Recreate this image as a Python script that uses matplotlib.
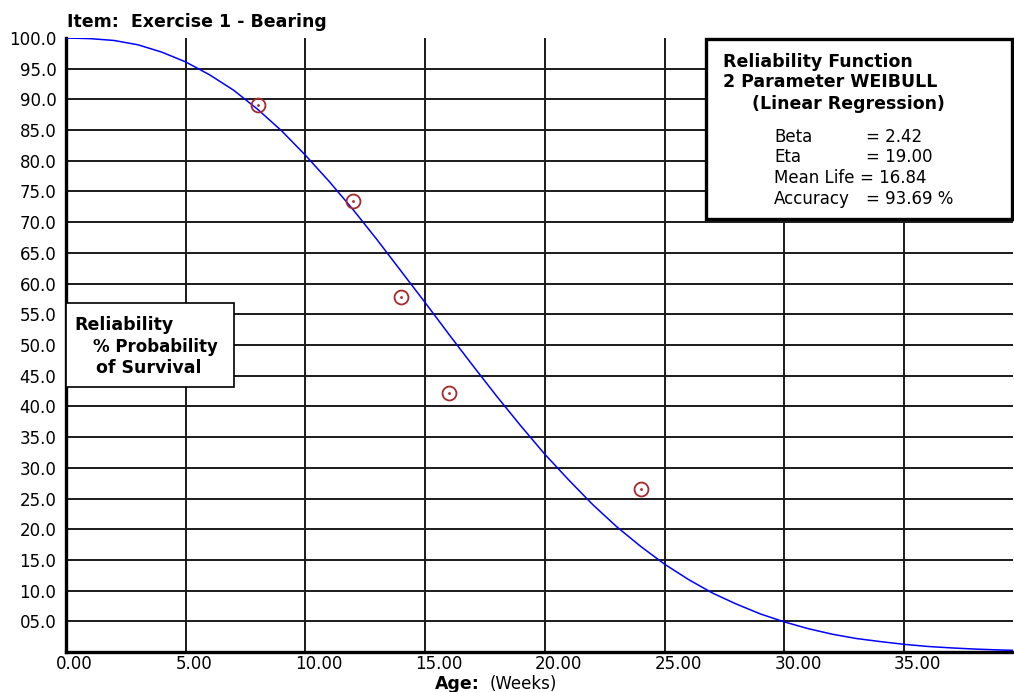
import matplotlib
matplotlib.use("Agg")
import matplotlib.pyplot as plt
import matplotlib.transforms as mtransforms
from matplotlib.patches import Rectangle

# fitted reliability curve (age in weeks, % survival)
curve_age = [0, 1, 2, 3, 4, 5, 6, 7, 8, 9, 10, 11, 12, 13, 14, 15, 16, 17, 18, 19,
             20, 21, 22, 23, 24, 25, 26, 27, 28, 29, 30, 31, 32, 33, 34, 35, 36, 37, 38, 39, 40]
curve_rel = [100.0, 99.9, 99.6, 98.9, 97.7, 96.1, 94.0, 91.5, 88.4, 84.9, 80.9, 76.6, 72.0,
             67.1, 62.0, 56.9, 51.7, 46.6, 41.6, 36.8, 32.2, 28.0, 24.0, 20.4, 17.2, 14.3,
             11.8, 9.6, 7.8, 6.2, 4.9, 3.8, 2.9, 2.2, 1.7, 1.25, 0.9, 0.66, 0.47, 0.33, 0.23]

# observed points
pt_age = [8.0, 12.0, 14.0, 16.0, 24.0]
pt_rel = [89.1, 73.4, 57.8, 42.2, 26.6]

x_ticks = [0, 5, 10, 15, 20, 25, 30, 35]
x_labels = ["0.00", "5.00", "10.00", "15.00", "20.00", "25.00", "30.00", "35.00"]
y_ticks = list(range(5, 105, 5))
y_labels = ["05.0"] + ["%.1f" % v for v in y_ticks[1:]]

info_rows = [("Beta", "= 2.42"), ("Eta", "= 19.00"), ("Mean Life", "= 16.84"), ("Accuracy", "= 93.69 %")]

W, H = 1014, 692
fig = plt.figure(figsize=(W / 100, H / 100), dpi=100)
plt.rcParams['font.family'] = ['DejaVu Sans']

def px(x, y):
    return x / W, 1 - y / H

ax = fig.add_axes([66 / W, (H - 652) / H, (1013 - 66) / W, (652 - 38) / H])
ax.set_xlim(0, 39.55)
ax.set_ylim(0, 100)

# grid
for v in y_ticks[:-1]:
    ax.axhline(v, color="#1a1a1a", lw=1.4, zorder=1)
for v in x_ticks[1:]:
    ax.axvline(v, color="#1a1a1a", lw=1.4, zorder=1)

ax.plot(curve_age, curve_rel, color="#0000ff", lw=1.1, zorder=3)
ax.plot(pt_age, pt_rel, "o", ms=10, mfc="none", mec="#a52a2a", mew=1.3, zorder=4)
ax.plot(pt_age, pt_rel, ".", ms=2, color="#a52a2a", zorder=4)

for s in ["top", "right"]:
    ax.spines[s].set_visible(False)
for s in ["left", "bottom"]:
    ax.spines[s].set_linewidth(2.4)
    ax.spines[s].set_color("black")

ax.set_xticks(x_ticks)
ax.set_xticklabels(x_labels, fontsize=12)
ax.set_yticks(y_ticks)
ax.set_yticklabels(y_labels, fontsize=12)
ax.tick_params(length=0)
ax.tick_params(axis="y", pad=7)
ax.tick_params(axis="x", pad=2)
offset = mtransforms.ScaledTranslation(-10 / 100, 0, fig.dpi_scale_trans)
for lab in ax.get_xticklabels():
    lab.set_horizontalalignment("left")
    lab.set_transform(lab.get_transform() + offset)

BOLD = 12.5
NORM = 12

# title and axis label
fig.text(*px(67, 22), "Item:  Exercise 1 - Bearing", fontsize=BOLD, fontweight="bold", va="center")
fig.text(*px(435, 684), "Age:", fontsize=BOLD, fontweight="bold", va="center")
fig.text(*px(490, 684), "(Weeks)", fontsize=NORM, va="center")

# right info box
fig.add_artist(Rectangle(px(706, 219), (1012 - 706) / W, (219 - 39) / H, transform=fig.transFigure,
                         fill=True, fc="white", ec="black", lw=2.4, zorder=5))
fig.text(*px(723, 62), "Reliability Function", fontsize=BOLD, fontweight="bold", va="center", zorder=6)
fig.text(*px(723, 82), "2 Parameter WEIBULL", fontsize=BOLD, fontweight="bold", va="center", zorder=6)
fig.text(*px(752, 104), "(Linear Regression)", fontsize=BOLD, fontweight="bold", va="center", zorder=6)
row_y = [137, 157, 178, 199]
for (name, val), yy in zip(info_rows, row_y):
    fig.text(*px(774, yy), name, fontsize=NORM, va="center", zorder=6)
    fig.text(*px(860 if name == "Mean Life" else 866, yy), val, fontsize=NORM, va="center", zorder=6)

# left label box
fig.add_artist(Rectangle(px(66, 387), (234 - 66) / W, (387 - 303) / H, transform=fig.transFigure,
                         fill=True, fc="white", ec="black", lw=1.2, zorder=5))
fig.text(*px(74, 325), "Reliability", fontsize=BOLD, fontweight="bold", va="center", zorder=6)
fig.text(*px(93, 347), "% Probability", fontsize=12, fontweight="bold", va="center", zorder=6)
fig.text(*px(96, 368), "of Survival", fontsize=BOLD, fontweight="bold", va="center", zorder=6)

fig.savefig("out.png", dpi=100)
